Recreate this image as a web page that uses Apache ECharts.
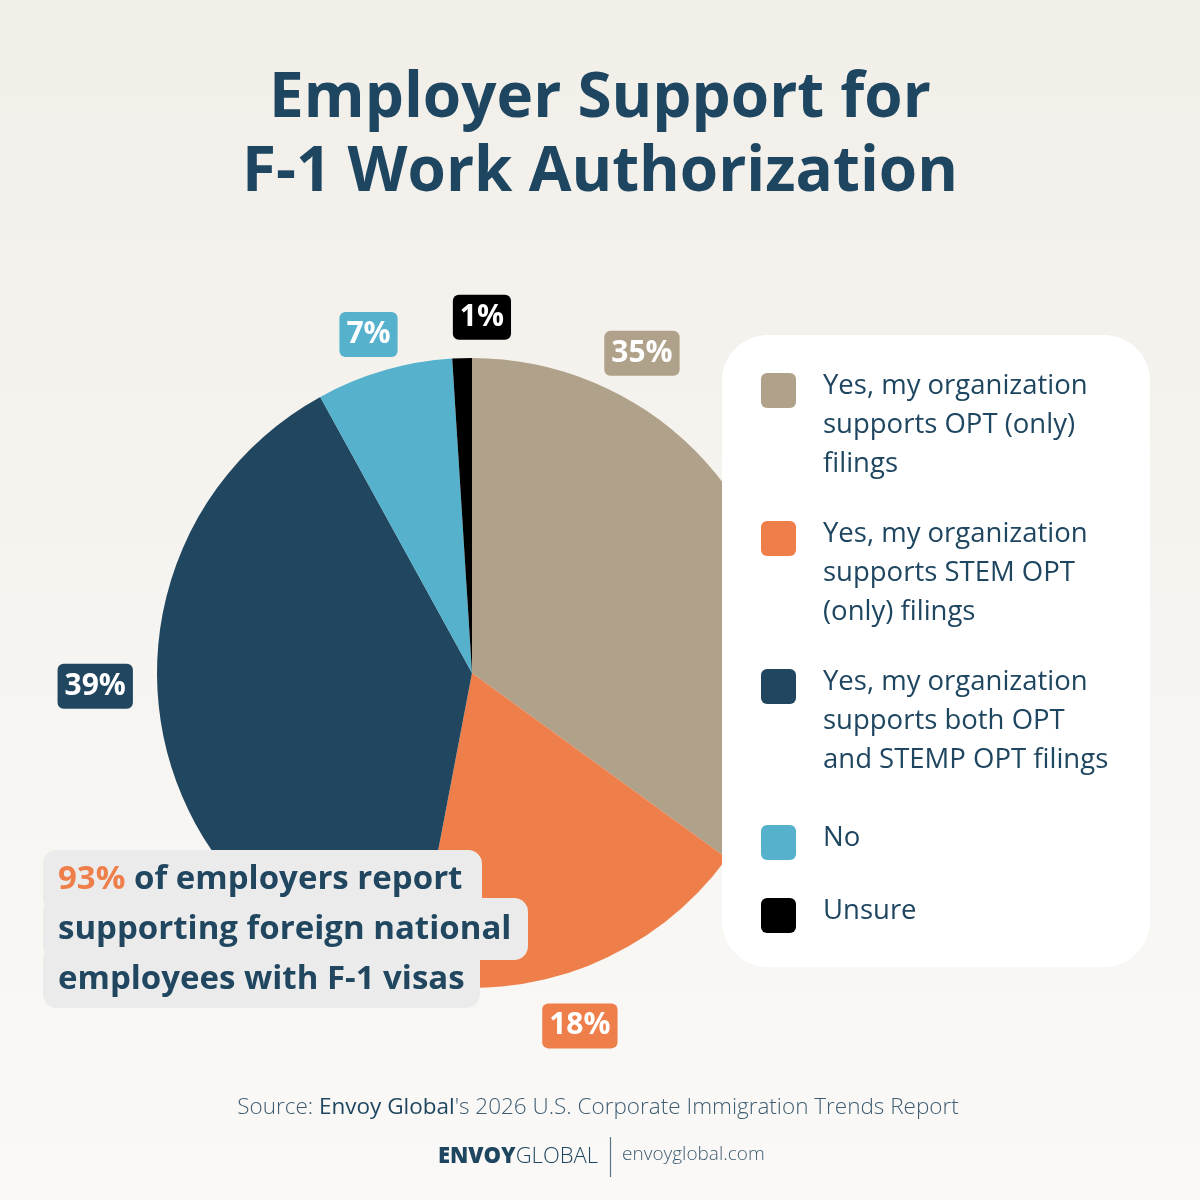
<!DOCTYPE html>
<html>
<head>
<meta charset="utf-8">
<script src="https://cdn.jsdelivr.net/npm/echarts@6/dist/echarts.min.js"></script>
<style>
  html, body { margin: 0; padding: 0; }
  #chart { width: 1200px; height: 1200px; }
</style>
</head>
<body>
<div id="chart"></div>
<script>
// data
const categories = [
  'Yes, my organization\nsupports OPT (only)\nfilings',
  'Yes, my organization\nsupports STEM OPT\n(only) filings',
  'Yes, my organization\nsupports both OPT\nand STEMP OPT filings',
  'No',
  'Unsure'
];
const values = [35, 18, 39, 7, 1];
const colors = ['#b0a18a', '#ef7f4a', '#214760', '#55b1cc', '#000000'];

const navy = '#1f4660';
const fontFamily = '"Open Sans", Lato, sans-serif';

const myChart = echarts.init(document.getElementById('chart'));

// label boxes: angle (deg clockwise from top) and distance from centre
const center = [472, 673];
const labelSpots = [
  [28, 362],
  [163, 369],
  [268, 377],
  [343, 354],
  [1.6, 356]
];

// legend built as graphic so the swatch sits on the first text line
const legendTops = [372, 520, 668, 824, 897];
const legendItems = [];
categories.forEach(function (name, i) {
  const ly = legendTops[i];
  legendItems.push({
    type: 'rect',
    shape: { x: 761, y: ly + 1, width: 35, height: 35, r: 6 },
    style: { fill: colors[i] },
    z: 101
  });
  legendItems.push({
    type: 'text',
    x: 823,
    y: ly - 5,
    style: {
      text: name,
      fill: navy,
      font: '400 27.5px ' + fontFamily,
      lineHeight: 39
    },
    z: 101
  });
});

let option = {
  backgroundColor: new echarts.graphic.LinearGradient(0, 0, 0, 1, [
    { offset: 0, color: '#f2efe9' },
    { offset: 1, color: '#faf9f7' }
  ]),
  title: {
    text: 'Employer Support for\nF-1 Work Authorization',
    left: 'center',
    top: 57,
    textStyle: {
      color: navy,
      fontFamily: fontFamily,
      fontWeight: 'bold',
      fontSize: 62,
      lineHeight: 74
    }
  },
  series: [
    {
      type: 'pie',
      center: center,
      radius: [0, 315],
      startAngle: 90,
      clockwise: true,
      silent: true,
      z: 2,
      data: values.map(function (v, i) {
        return {
          name: categories[i],
          value: v,
          itemStyle: { color: colors[i] },
          label: { backgroundColor: colors[i] }
        };
      }),
      label: {
        show: true,
        position: 'outside',
        formatter: '{c}%',
        color: '#ffffff',
        fontFamily: fontFamily,
        fontWeight: 'bold',
        fontSize: 30,
        lineHeight: 34,
        padding: [6, 7, 5, 7],
        borderRadius: 6
      },
      labelLine: { show: false },
      labelLayout: function (params) {
        const s = labelSpots[params.dataIndex];
        const a = s[0] * Math.PI / 180;
        return {
          x: center[0] + Math.sin(a) * s[1],
          y: center[1] - Math.cos(a) * s[1],
          align: 'center',
          verticalAlign: 'middle'
        };
      }
    }
  ],
  graphic: [
    // legend card
    {
      type: 'rect',
      shape: { x: 722, y: 335, width: 428, height: 632, r: 46 },
      style: { fill: '#ffffff' },
      z: 100
    }
  ].concat(legendItems).concat([
    // call-out box
    {
      type: 'rect',
      shape: { x: 43, y: 850, width: 439, height: 62, r: 14 },
      style: { fill: '#ebebeb' },
      z: 100
    },
    {
      type: 'rect',
      shape: { x: 43, y: 898, width: 485, height: 62, r: 14 },
      style: { fill: '#ebebeb' },
      z: 100
    },
    {
      type: 'rect',
      shape: { x: 43, y: 945, width: 437, height: 63, r: 14 },
      style: { fill: '#ebebeb' },
      z: 100
    },
    {
      type: 'text',
      x: 58,
      y: 855,
      style: {
        text: '{o|93%}{n| of employers report}\n{n|supporting foreign national}\n{n|employees with F-1 visas}',
        rich: {
          o: { fill: '#ef7f4a', font: 'bold 33px ' + fontFamily, lineHeight: 50 },
          n: { fill: '#214760', font: 'bold 33px ' + fontFamily, lineHeight: 50 }
        }
      },
      z: 101
    },
    // source line
    {
      type: 'text',
      x: 598,
      y: 1108,
      style: {
        text: '{a|Source: }{b|Envoy Global}{a|\'s 2026 U.S. Corporate Immigration Trends Report}',
        align: 'center',
        verticalAlign: 'middle',
        rich: {
          a: { fill: '#3f5d72', font: '300 22.5px ' + fontFamily },
          b: { fill: navy, font: '500 22.5px ' + fontFamily }
        }
      },
      z: 101
    },
    // logo
    {
      type: 'text',
      x: 598,
      y: 1157,
      style: {
        text: '{a|ENVOY}{b|GLOBAL}',
        align: 'right',
        verticalAlign: 'middle',
        rich: {
          a: { fill: navy, font: '800 22px ' + fontFamily },
          b: { fill: navy, font: '300 22px ' + fontFamily }
        }
      },
      z: 101
    },
    {
      type: 'line',
      shape: { x1: 610.5, y1: 1137, x2: 610.5, y2: 1177 },
      style: { stroke: '#5b7486', lineWidth: 1.2 },
      z: 101
    },
    {
      type: 'text',
      x: 622,
      y: 1155,
      style: {
        text: 'envoyglobal.com',
        verticalAlign: 'middle',
        fill: '#3f5d72',
        font: '300 19px ' + fontFamily
      },
      z: 101
    }
  ])
};

myChart.setOption(option);

window.addEventListener('resize', () => {
  myChart.resize();
}, true);
</script>
</body>
</html>
